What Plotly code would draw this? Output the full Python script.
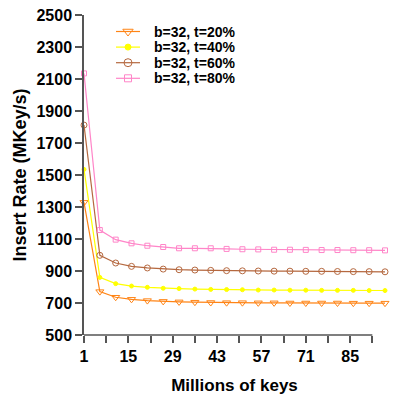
import plotly.graph_objects as go

# Millions of keys inserted (one point every 5M)
keys = [1, 6, 11, 16, 21, 26, 31, 36, 41, 46, 51, 56, 61, 66, 71, 76, 81, 86, 91, 96]

# insert rate (MKey/s) for b=32 at different target fill levels
rate_t20 = [1329, 771, 736, 723, 715, 710, 707, 705, 703, 702, 702, 701, 701, 700, 700, 700, 700, 699, 699, 699]
rate_t40 = [1535, 860, 821, 806, 798, 792, 790, 787, 785, 784, 783, 781, 781, 780, 780, 779, 779, 779, 778, 778]
rate_t60 = [1812, 998, 950, 929, 919, 912, 908, 906, 904, 902, 901, 900, 899, 899, 898, 898, 897, 896, 896, 895]
rate_t80 = [2135, 1156, 1096, 1073, 1058, 1050, 1042, 1042, 1042, 1038, 1036, 1035, 1033, 1033, 1032, 1031, 1031, 1030, 1030, 1029]

series_names = ["b=32, t=20%", "b=32, t=40%", "b=32, t=60%", "b=32, t=80%"]

x_tick_vals = [1, 8, 15, 22, 29, 36, 43, 50, 57, 64, 71, 78, 85, 92]
x_tick_text = ["1", "", "15", "", "29", "", "43", "", "57", "", "71", "", "85", ""]
y_tick_vals = [500, 700, 900, 1100, 1300, 1500, 1700, 1900, 2100, 2300, 2500]

FONT = "Liberation Sans"
AXIS_COLOR = "#555555"

# plot area in pixels (left, right, top, bottom)
PL, PR, PT, PB = 84, 385, 15, 335

# colour, marker symbol, marker size for each series
styles = [
    ("#ff8415", "triangle-down-open", 7),
    ("#ffff00", "circle", 4),
    ("#b5683f", "circle-open", 6),
    ("#ff85c8", "square-open", 5),
]

fig = go.Figure()
for name, vals, (color, symbol, size) in zip(series_names, [rate_t20, rate_t40, rate_t60, rate_t80], styles):
    fig.add_trace(go.Scatter(
        x=keys, y=vals, name=name, mode="lines+markers",
        line=dict(color=color, width=1.2),
        marker=dict(symbol=symbol, size=size, color=color, line=dict(color=color, width=1)),
        cliponaxis=False, showlegend=False,
    ))

# hand-made legend (plotly's own rows are too far apart), drawn on a hidden
# overlay axis that maps straight to pixel positions
for i, (name, (color, symbol, size)) in enumerate(zip(series_names, styles)):
    row_y = 31.5 + i * 15.6
    fig.add_trace(go.Scatter(
        x=[116, 140], y=[row_y, row_y], mode="lines", xaxis="x2", yaxis="y2",
        line=dict(color=color, width=1.2), showlegend=False, hoverinfo="skip",
    ))
    fig.add_trace(go.Scatter(
        x=[128], y=[row_y], mode="markers", xaxis="x2", yaxis="y2",
        marker=dict(symbol=symbol, size=size + 2, color=color, line=dict(color=color, width=1)),
        showlegend=False, hoverinfo="skip",
    ))
    fig.add_annotation(x=152, y=row_y, xref="x2", yref="y2", text=name, showarrow=False,
                       xanchor="left", yanchor="middle",
                       font=dict(size=14, weight="bold", family=FONT, color="black"))

# x axis line stops at the last tick, not at the last point
fig.add_shape(type="line", xref="x", yref="paper", x0=1, x1=92, y0=0, y1=0,
              line=dict(color=AXIS_COLOR, width=1.5))

fig.update_layout(
    width=400, height=400,
    margin=dict(l=PL, r=400 - PR, t=PT, b=400 - PB, autoexpand=False),
    plot_bgcolor="white", paper_bgcolor="white",
    font=dict(family=FONT, color="black"),
    showlegend=False,
    xaxis=dict(
        range=[1, 96], showgrid=False, zeroline=False, showline=False,
        automargin=False,
        tickmode="array", tickvals=x_tick_vals, ticktext=x_tick_text,
        ticks="outside", ticklen=7, tickwidth=1.5, tickcolor=AXIS_COLOR,
        tickfont=dict(size=16, weight="bold"),
        title=dict(text="Millions of keys", font=dict(size=17, weight="bold"), standoff=14),
    ),
    yaxis=dict(
        range=[500, 2500], showgrid=False, zeroline=False,
        automargin=False,
        showline=True, linecolor=AXIS_COLOR, linewidth=1.5,
        tickmode="array", tickvals=y_tick_vals,
        ticks="outside", ticklen=7, tickwidth=1.5, tickcolor=AXIS_COLOR,
        tickfont=dict(size=16, weight="bold"),
        title=dict(text="Insert Rate (MKey/s)", font=dict(size=18, weight="bold"), standoff=5),
    ),
    xaxis2=dict(range=[PL, PR], overlaying="x", anchor="y2", visible=False, fixedrange=True),
    yaxis2=dict(range=[PB, PT], overlaying="y", anchor="x2", visible=False, fixedrange=True),
)

fig.write_html("out.html", config={"displayModeBar": False},
               post_script="document.body.style.margin='0';")
